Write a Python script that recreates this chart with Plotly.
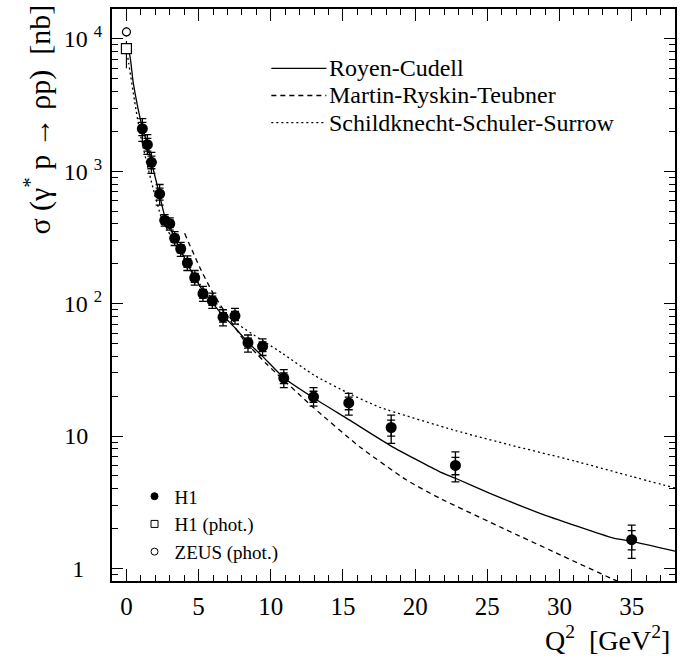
import plotly.graph_objects as go

# ---------------- data ----------------
H1_Q2 = [1.1, 1.45, 1.73, 2.3, 2.65, 3.0, 3.34, 3.76, 4.22, 4.73, 5.3, 5.95,
         6.69, 7.52, 8.42, 9.43, 10.9, 12.96, 15.4, 18.34, 22.79, 35.0]
H1_SIG = [2100, 1590, 1170, 675, 426, 402, 312, 260, 203, 157, 119, 105,
          79, 81, 50.7, 47.5, 27.4, 19.8, 17.8, 11.6, 6.0, 1.65]
H1_TOT_UP = [400, 300, 220, 120, 44, 43, 38, 30, 27, 21, 16, 15,
             11, 11, 7.3, 6.8, 4.4, 3.4, 3.2, 2.8, 1.6, 0.47]
H1_TOT_DN = [420, 247, 204, 120, 41, 42, 37, 32, 25, 19, 15, 13,
             11, 11, 7.7, 6.9, 4.2, 3.0, 3.4, 2.8, 1.5, 0.46]
H1_STAT_UP = [240, 180, 130, 70, 26, 25, 22, 18, 16, 12, 9, 9,
              6.5, 6.5, 4.3, 4.0, 2.6, 2.0, 1.9, 1.6, 0.9, 0.28]
H1_STAT_DN = [240, 170, 125, 70, 26, 25, 22, 18, 15, 12, 9, 8,
              6.5, 6.5, 4.5, 4.0, 2.5, 1.8, 2.0, 1.6, 0.9, 0.27]

H1PHOT_Q2 = [0.0]
H1PHOT_SIG = [8450]
H1PHOT_UP = [1200]
H1PHOT_DN = [2450]

ZEUS_Q2 = [0.0]
ZEUS_SIG = [11300]
ZEUS_UP = [900]
ZEUS_DN = [900]

RC_Q2 = [0.0, 0.23, 0.46, 0.8, 1.1, 1.45, 1.73, 2.3, 2.65, 3.0, 3.34, 3.76,
         4.22, 4.73, 5.3, 6.0, 6.7, 7.5, 8.42, 9.43, 10.96, 13.03, 15.4,
         18.34, 21.68, 22.79, 25.14, 28.6, 33.68, 35.0, 38.0]
RC_SIG = [8500, 7540, 4750, 2990, 2150, 1600, 1180, 660, 460, 385, 312, 255,
          200, 158, 125, 100, 81, 66, 51, 40, 27.2, 19.2, 13.3,
          8.4, 5.39, 4.8, 3.71, 2.62, 1.70, 1.60, 1.35]

MRT_Q2 = [4.03, 5.09, 6.0, 8.07, 9.69, 12.91, 16.15, 19.38, 21.68, 26.3,
          29.76, 33.7, 36.0]
MRT_SIG = [340, 187, 120, 54.3, 35.2, 16.6, 8.31, 4.67, 3.40, 1.96,
           1.31, 0.83, 0.65]

SSS_Q2 = [0.1, 0.16, 0.57, 0.92, 1.38, 1.84, 2.42, 2.88, 3.5, 4.2, 5.07,
          7.38, 10.84, 13.0, 15.45, 17.54, 22.8, 26.5, 31.0, 35.0, 38.0]
SSS_SIG = [7200, 6520, 3360, 2000, 1190, 748, 446, 354, 275, 204, 141,
           74.5, 41.9, 28.8, 20.9, 16.5, 11.0, 8.6, 6.5, 4.95, 4.05]

MODEL_NAMES = ["Royen-Cudell", "Martin-Ryskin-Teubner", "Schildknecht-Schuler-Surrow"]
MODEL_DASH = ["solid", "5px,4px", "2px,3px"]

X_TICKS = [0, 5, 10, 15, 20, 25, 30, 35]
Y_TICKS = [1, 10, 100, 1000, 10000]
Y_TICKTEXT = ["1\u00a0\u00a0\u00a0", "10\u00a0\u00a0\u200a",
              "10\u00a0<sup>2</sup>", "10\u00a0<sup>3</sup>", "10\u00a0<sup>4</sup>"]
Y_MINOR = [m * 10 ** k for k in range(-1, 5) for m in range(2, 10)]

SERIF = "Liberation Serif, Times New Roman, serif"

fig = go.Figure()

for q, s, d in zip([RC_Q2, MRT_Q2, SSS_Q2], [RC_SIG, MRT_SIG, SSS_SIG], MODEL_DASH):
    fig.add_trace(go.Scatter(x=q, y=s, mode="lines", showlegend=False,
                             line=dict(color="black", width=1.3, dash=d,
                                       shape="spline", smoothing=0.5)))

# stat error ticks
fig.add_trace(go.Scatter(x=H1_Q2, y=H1_SIG, mode="markers", showlegend=False,
                         marker=dict(size=1, color="rgba(0,0,0,0)"),
                         error_y=dict(type="data", symmetric=False, array=H1_STAT_UP,
                                      arrayminus=H1_STAT_DN, color="black",
                                      thickness=1.3, width=4)))
# total errors + points
fig.add_trace(go.Scatter(x=H1_Q2, y=H1_SIG, mode="markers", showlegend=False,
                         marker=dict(size=11, color="black", symbol="circle"),
                         error_y=dict(type="data", symmetric=False, array=H1_TOT_UP,
                                      arrayminus=H1_TOT_DN, color="black",
                                      thickness=1.3, width=4)))
fig.add_trace(go.Scatter(x=H1PHOT_Q2, y=H1PHOT_SIG, mode="markers", showlegend=False,
                         marker=dict(size=10, color="white", symbol="square",
                                     line=dict(color="black", width=1.2)),
                         error_y=dict(type="data", symmetric=False, array=H1PHOT_UP,
                                      arrayminus=H1PHOT_DN, color="black",
                                      thickness=1.2, width=0)))
fig.add_trace(go.Scatter(x=ZEUS_Q2, y=ZEUS_SIG, mode="markers", showlegend=False,
                         marker=dict(size=8, color="white", symbol="circle",
                                     line=dict(color="black", width=1.2)),
                         error_y=dict(type="data", symmetric=False, array=ZEUS_UP,
                                      arrayminus=ZEUS_DN, color="black",
                                      thickness=1.2, width=0)))

# legend entries for the data markers (bottom-left legend)
for name, sym, fill, size in [("H1", "circle", "black", 7),
                              ("H1 (phot.)", "square", "white", 7),
                              ("ZEUS (phot.)", "circle", "white", 7)]:
    fig.add_trace(go.Scatter(x=[None], y=[None], mode="markers", name=name,
                             legend="legend2",
                             marker=dict(size=size, color=fill, symbol=sym,
                                         line=dict(color="black", width=1))))

# manual legend for the model curves (top right)
x0_px, x1_px, txt_px = 271.7, 326.7, 327.0
L, W, T, H = 112.5, 562.5, 7, 574
rows_px = [66.5, 93.8, 121.1]
for name, dash, ypx in zip(MODEL_NAMES, MODEL_DASH, rows_px):
    yp = 1 - (ypx - T) / H
    fig.add_shape(type="line", xref="paper", yref="paper",
                  x0=(x0_px - L) / W, x1=(x1_px - L) / W, y0=yp, y1=yp,
                  line=dict(color="black", width=1.3, dash=dash))
    fig.add_annotation(xref="paper", yref="paper", x=(txt_px - L) / W, y=yp,
                       text=name, showarrow=False, xanchor="left", yanchor="middle",
                       font=dict(family=SERIF, size=24, color="black"))

# axis titles as annotations
fig.add_annotation(xref="paper", yref="paper", x=(38 - L) / W, y=1 - (117.5 - T) / H,
                   text="\u03c3 (\u03b3<sup>*</sup> p \u2192 \u03c1p)\u00a0\u00a0[nb]",
                   textangle=-90, showarrow=False, xanchor="center", yanchor="middle",
                   font=dict(family=SERIF, size=30, color="black"))
fig.add_annotation(xref="paper", yref="paper", x=(672 - L) / W, y=-(639 - 581) / H,
                   text="Q<sup>2</sup>\u00a0\u00a0[GeV<sup>2</sup>]",
                   showarrow=False, xanchor="right", yanchor="middle",
                   font=dict(family=SERIF, size=28, color="black"))

fig.update_layout(
    width=691, height=658,
    margin=dict(l=112, r=16, t=7, b=77),
    paper_bgcolor="white", plot_bgcolor="white",
    font=dict(family=SERIF, color="black"),
    legend2=dict(x=(135 - L) / W, y=1 - (477 - T) / H, xanchor="left", yanchor="top",
                 bgcolor="rgba(0,0,0,0)", borderwidth=0,
                 font=dict(family=SERIF, size=19, color="black"),
                 tracegroupgap=0, itemwidth=30),
    xaxis=dict(range=[-1, 38], tickvals=X_TICKS, ticks="inside", ticklen=12,
               tickwidth=1.3, tickcolor="black", showline=True, linewidth=2,
               linecolor="black", mirror="allticks", showgrid=False, zeroline=False,
               tickfont=dict(family=SERIF, size=25, color="black"),
               ticklabelstandoff=2,
               minor=dict(dtick=1, tick0=0, ticks="inside", ticklen=6,
                          tickwidth=1.2, tickcolor="black", showgrid=False)),
    yaxis=dict(type="log", range=[-0.095, 4.226], tickvals=Y_TICKS,
               ticktext=Y_TICKTEXT, ticks="inside", ticklen=11, tickwidth=1.3,
               tickcolor="black", showline=True, linewidth=2, linecolor="black",
               mirror="allticks", showgrid=False, zeroline=False,
               tickfont=dict(family=SERIF, size=24, color="black"),
               ticklabelstandoff=3,
               minor=dict(tickmode="array", tickvals=Y_MINOR, ticks="inside",
                          ticklen=6, tickwidth=1.2, tickcolor="black",
                          showgrid=False)),
)

fig.write_html("out.html")
